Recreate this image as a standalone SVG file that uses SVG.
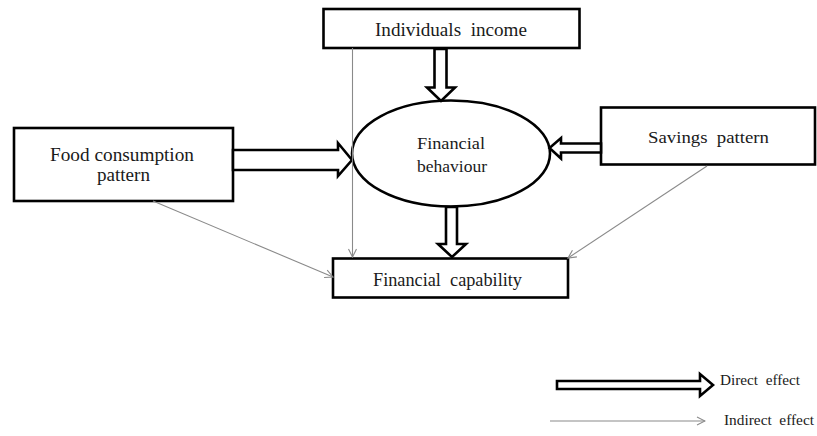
<svg xmlns="http://www.w3.org/2000/svg" width="817" height="436" viewBox="0 0 817 436">
<defs>
<style>
.box{fill:#fff;stroke:#000;stroke-width:2.6}
.big{fill:#fff;stroke:#000;stroke-width:2.6;stroke-linejoin:miter}
.thin{fill:none;stroke:#8a8a8a;stroke-width:1.1}
.t{font-family:"Liberation Serif","Times New Roman",serif;fill:#1a1a1a;text-anchor:start;white-space:pre}
</style>
<marker id="open" viewBox="0 0 10 10" refX="9" refY="5" markerWidth="10" markerHeight="10" markerUnits="userSpaceOnUse" orient="auto">
<path d="M1,1 L9,5 L1,9" fill="none" stroke="#8a8a8a" stroke-width="1.1"/>
</marker>
</defs>
<rect width="817" height="436" fill="#fff"/>

<g id="individuals-income">
<rect class="box" x="323.5" y="9" width="256" height="39"/>
<text class="t" xml:space="preserve" x="375" y="36" font-size="18" textLength="152" lengthAdjust="spacingAndGlyphs">Individuals  income</text>
</g>

<g id="food-consumption">
<rect class="box" x="14" y="128" width="219" height="73"/>
<text class="t" x="50" y="160.5" font-size="19" textLength="144" lengthAdjust="spacingAndGlyphs">Food consumption</text>
<text class="t" x="97" y="181" font-size="19" textLength="53" lengthAdjust="spacingAndGlyphs">pattern</text>
</g>

<g id="financial-behaviour">
<ellipse cx="451" cy="153.5" rx="99" ry="53" fill="#fff" stroke="#000" stroke-width="2.6"/>
<text class="t" x="417" y="149" font-size="17" textLength="68" lengthAdjust="spacingAndGlyphs">Financial</text>
<text class="t" x="417" y="172" font-size="17" textLength="70" lengthAdjust="spacingAndGlyphs">behaviour</text>
</g>

<g id="savings-pattern">
<rect class="box" x="601" y="107.5" width="214" height="57"/>
<text class="t" xml:space="preserve" x="648" y="143" font-size="17" textLength="121" lengthAdjust="spacingAndGlyphs">Savings  pattern</text>
</g>

<g id="financial-capability">
<rect class="box" x="333" y="258.5" width="235" height="39"/>
<text class="t" xml:space="preserve" x="373" y="286" font-size="18" textLength="149" lengthAdjust="spacingAndGlyphs">Financial  capability</text>
</g>

<g id="connectors">
<polygon class="big" points="434.5,49 446.5,49 446.5,87.5 455,87.5 441,101 427,87.5 434.5,87.5"/>
<polygon class="big" points="233,150 338,150 338,143 352,160 338,176 338,170 233,170"/>
<polygon class="big" points="601,143.5 561,143.5 561,138 549.5,148 561,158.5 561,152.5 601,152.5"/>
<polygon class="big" points="446,207 457,207 457,244 466,244 452,257 438,244 446,244"/>
<line class="thin" x1="352.5" y1="48" x2="352.5" y2="257" marker-end="url(#open)"/>
<line class="thin" x1="153" y1="201" x2="333" y2="277" marker-end="url(#open)"/>
<line class="thin" x1="707" y1="166" x2="568" y2="258" marker-end="url(#open)"/>
</g>

<g id="legend">
<polygon class="big" points="557,381 700,381 700,374 713,385 700,396 700,389 557,389"/>
<text class="t" xml:space="preserve" x="720" y="385" font-size="14" textLength="80" lengthAdjust="spacingAndGlyphs">Direct  effect</text>
<line class="thin" x1="550" y1="421" x2="705" y2="421" marker-end="url(#open)"/>
<text class="t" xml:space="preserve" x="724" y="425" font-size="14" textLength="90" lengthAdjust="spacingAndGlyphs">Indirect  effect</text>
</g>
</svg>
